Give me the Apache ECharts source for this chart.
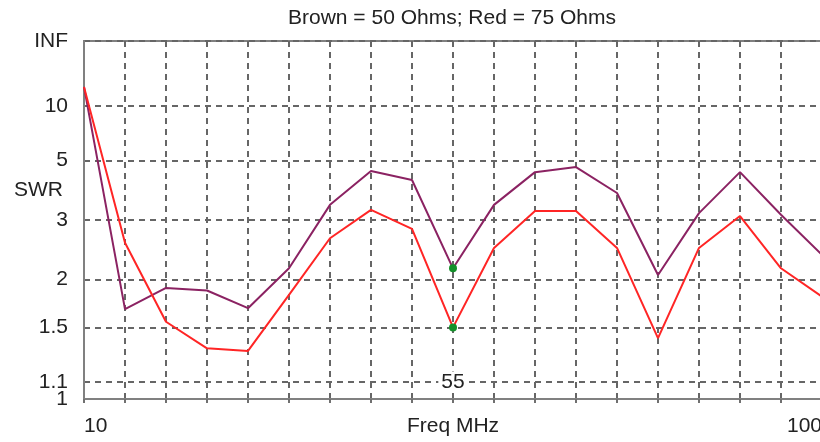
<!DOCTYPE html>
<html><head><meta charset="utf-8">
<script src="https://cdn.jsdelivr.net/npm/echarts@6/dist/echarts.min.js"></script>
<style>html,body{margin:0;padding:0;background:#fff}#c{width:820px;height:442px}</style>
</head><body><div id="c"></div>
<script>
// ---- data ----
const freqMHz = [10, 15, 20, 25, 30, 35, 40, 45, 50, 55, 60, 65, 70, 75, 80, 85, 90, 95, 100];
const swr50 = [14.6, 1.67, 1.90, 1.87, 1.68, 2.15, 3.37, 4.51, 4.15, 2.15, 3.37, 4.46, 4.68, 3.71, 2.06, 3.16, 4.46, 3.12, 2.35];
const swr75 = [14.6, 2.55, 1.55, 1.33, 1.31, 1.82, 2.63, 3.24, 2.81, 1.50, 2.46, 3.21, 3.21, 2.46, 1.41, 2.46, 3.09, 2.15, 1.80];
const swrTickValues = [1, 1.1, 1.5, 2, 3, 5, 10, Infinity];
const swrTickLabels = ['1', '1.1', '1.5', '2', '3', '5', '10', 'INF'];
const xLabelValues = [10, 100];
const cursorFreq = 55;
const cursorLabelSwr = 1.1;
const titleText = 'Brown = 50 Ohms; Red = 75 Ohms';

// SWR -> reflection coefficient (the chart's vertical scale)
function rho(s) { return s === Infinity ? 1 : (s - 1) / (s + 1); }
const tickRho = swrTickValues.map(rho);
const FONT = 'Liberation Sans, Arial, sans-serif';
const TXT = '#222';
const ci = freqMHz.indexOf(cursorFreq);
function labelFor(v) {
  let best = 0, bd = 9;
  tickRho.forEach((r, i) => { const d = Math.abs(r - v); if (d < bd) { bd = d; best = i; } });
  return swrTickLabels[best];
}
const labelStyle = {fontSize: 21, color: TXT, margin: 16, fontFamily: FONT, hideOverlap: false, formatter: labelFor};

const chart = echarts.init(document.getElementById('c'), null, {renderer: 'canvas'});
chart.setOption({
  animation: false,
  backgroundColor: '#fff',
  textStyle: {fontFamily: FONT},
  title: [
    {text: titleText, left: 288, top: 8, padding: 0,
     textStyle: {fontSize: 21, fontWeight: 'normal', color: TXT, fontFamily: FONT}},
    {text: 'SWR', left: 14, top: 180, padding: 0,
     textStyle: {fontSize: 21, fontWeight: 'normal', color: TXT, fontFamily: FONT}}
  ],
  grid: {left: 84, top: 41, right: -2, bottom: 43, show: true, borderColor: '#808080', borderWidth: 2,
    containLabel: false, outerBoundsMode: 'none'},
  xAxis: {
    type: 'value', min: 10, max: 100, interval: 5,
    name: 'Freq MHz', nameLocation: 'middle', nameGap: 17, nameMoveOverlap: false,
    nameTextStyle: {fontSize: 21, color: TXT, fontFamily: FONT},
    axisLine: {lineStyle: {color: '#808080', width: 2}},
    axisTick: {show: true, length: 4, lineStyle: {color: '#707070', width: 2}},
    axisLabel: {customValues: xLabelValues, alignMinLabel: 'left', alignMaxLabel: 'right', hideOverlap: false,
      fontSize: 21, color: TXT, margin: 17, fontFamily: FONT},
    splitLine: {show: true, lineStyle: {color: '#666', width: 2, type: [6, 5]}}
  },
  yAxis: [
    {
      type: 'value', min: 0, max: 1, position: 'left',
      axisLine: {show: true, lineStyle: {color: '#808080', width: 2}},
      axisTick: {show: false, customValues: tickRho},
      axisLabel: Object.assign({customValues: tickRho.slice(1), showMaxLabel: true}, labelStyle),
      splitLine: {show: true, lineStyle: {color: '#666', width: 2, type: [6, 5]}}
    },
    {
      type: 'value', min: 0, max: 1, position: 'left', offset: 0,
      axisLine: {show: false}, axisTick: {show: false, customValues: tickRho.slice(0, 1)},
      splitLine: {show: false},
      axisLabel: Object.assign({customValues: tickRho.slice(0, 1), showMinLabel: true}, labelStyle)
    }
  ],
  series: [
    {type: 'line', name: '50 Ohms', showSymbol: false, z: 3,
     data: freqMHz.map((f, i) => [f, rho(swr50[i])]),
     lineStyle: {color: '#8b2262', width: 2}},
    {type: 'line', name: '75 Ohms', showSymbol: false, z: 4,
     data: freqMHz.map((f, i) => [f, rho(swr75[i])]),
     lineStyle: {color: '#ff2525', width: 2}},
    {type: 'scatter', symbolSize: 8, z: 6, itemStyle: {color: '#14902a', opacity: 1},
     data: [[cursorFreq, rho(swr50[ci])], [cursorFreq, rho(swr75[ci])]]},
    {type: 'scatter', symbolSize: 0, z: 7, itemStyle: {opacity: 1},
     data: [[cursorFreq, rho(cursorLabelSwr)]],
     label: {show: true, position: 'inside', formatter: String(cursorFreq), fontSize: 21, color: TXT,
       fontFamily: FONT, backgroundColor: '#fff', padding: [0, 3]}}
  ]
});
</script>
</body></html>
